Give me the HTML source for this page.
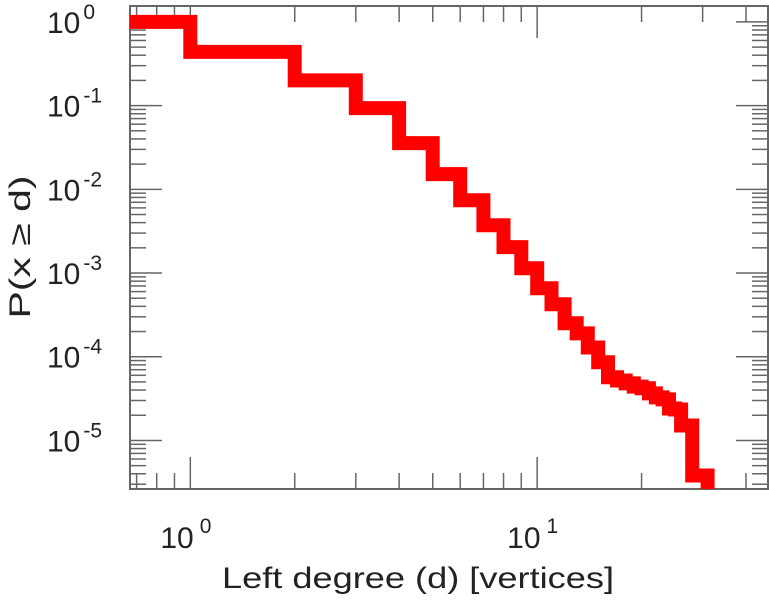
<!DOCTYPE html>
<html><head><meta charset="utf-8"><style>
html,body{margin:0;padding:0;background:#fff;}
svg{display:block;font-family:"Liberation Sans",sans-serif;}
</style></head><body>
<svg id="chart" width="769" height="600" viewBox="0 0 769 600">
<g id="axes"></g>
<g id="series"></g>
<text x="222" y="588" font-size="30" fill="#222" textLength="392" lengthAdjust="spacingAndGlyphs">Left degree (d) [vertices]</text>
<text transform="translate(30,247) rotate(-90)" text-anchor="middle" font-size="30" fill="#222" textLength="143" lengthAdjust="spacingAndGlyphs">P(x ≥ d)</text>
</svg>
<script>
const degrees = [1,2,3,4,5,6,7,8,9,10,11,12,13,14,15,16,17,18,19,20,21,22,23,24,25,26,27,28,29,30,31];
const probs = [0.438,0.2,0.0935,0.0357,0.0152,0.0074,0.00373,0.00204,0.00114,6.58e-4,4.23e-4,2.51e-4,1.9e-4,1.29e-4,8.6e-5,5.7e-5,5.2e-5,4.8e-5,4.4e-5,4.2e-5,3.65e-5,3.27e-5,3.09e-5,2.41e-5,2.34e-5,1.51e-5,1.51e-5,3.81e-6,3.81e-6,3.81e-6,1e-6];
const startProb = 1.0;
const xTickExps = [0,1];
const yTickExps = [0,-1,-2,-3,-4,-5];

const L=130,R=768,T=6,B=489;
const xmin=Math.log10(0.67), xmax=Math.log10(46.3);
const ymin=-5.58, ymax=0.19;
function sx(v){return L+(Math.log10(v)-xmin)/(xmax-xmin)*(R-L);}
function sy(v){return B-(Math.log10(v)-ymin)/(ymax-ymin)*(B-T);}
const NS='http://www.w3.org/2000/svg';
const axes=document.getElementById('axes');
function mk(tag,attrs,parent){const e=document.createElementNS(NS,tag);for(const k in attrs)e.setAttribute(k,attrs[k]);parent.appendChild(e);return e;}

const series=document.getElementById('series');
const cp=mk('clipPath',{id:'clip'},series);
mk('rect',{x:L,y:T,width:R-L,height:B-T},cp);
let d='M'+L+','+sy(startProb);
let prev=startProb;
for(let i=0;i<degrees.length;i++){
  const x=sx(degrees[i]);
  d+=' L'+x.toFixed(1)+','+sy(prev).toFixed(1)+' L'+x.toFixed(1)+','+sy(probs[i]).toFixed(1);
  prev=probs[i];
}
const line=mk('path',{d:d,fill:'none',stroke:'#ff0000','stroke-width':14,'stroke-linejoin':'miter','clip-path':'url(#clip)'},series);



const fr=mk('rect',{x:L,y:T,width:R-L,height:B-T,fill:'none',stroke:'#666','stroke-width':2},axes);



for(let e=-1;e<=1;e++){
  for(let m=1;m<=9;m++){
    const v=m*Math.pow(10,e);const x=sx(v);
    if(x<L||x>R)continue;
    const len=m===1?32:16;
    const t1=mk('line',{x1:x,y1:B,x2:x,y2:B-len,stroke:'#666','stroke-width':1.5},axes);
    
    
    const t2=mk('line',{x1:x,y1:T,x2:x,y2:T+len,stroke:'#666','stroke-width':1.5},axes);
    
    
  }
}
for(let e=-6;e<=0;e++){
  for(let m=1;m<=9;m++){
    const v=m*Math.pow(10,e);const y=sy(v);
    if(y<T||y>B)continue;
    const len=m===1?32:16;
    const t1=mk('line',{x1:L,y1:y,x2:L+len,y2:y,stroke:'#666','stroke-width':1.5},axes);
    
    
    const t2=mk('line',{x1:R,y1:y,x2:R-len,y2:y,stroke:'#666','stroke-width':1.5},axes);
    
    
  }
}
xTickExps.forEach(e=>{
  const x=sx(Math.pow(10,e));
  const t=mk('text',{x:x-30,y:548,'font-size':30,fill:'#222'},axes);
  
  
  t.textContent='10';
  const s=mk('tspan',{dx:6,dy:-15,'font-size':21},t);s.textContent=String(e);
});
yTickExps.forEach(e=>{
  const y=sy(Math.pow(10,e));
  const t=mk('text',{x:47,y:y+11,'font-size':30,fill:'#222'},axes);
  
  
  t.textContent='10';
  const s=mk('tspan',{dx:3,dy:-14,'font-size':21},t);s.textContent=String(e);
});
</script>
</body></html>
